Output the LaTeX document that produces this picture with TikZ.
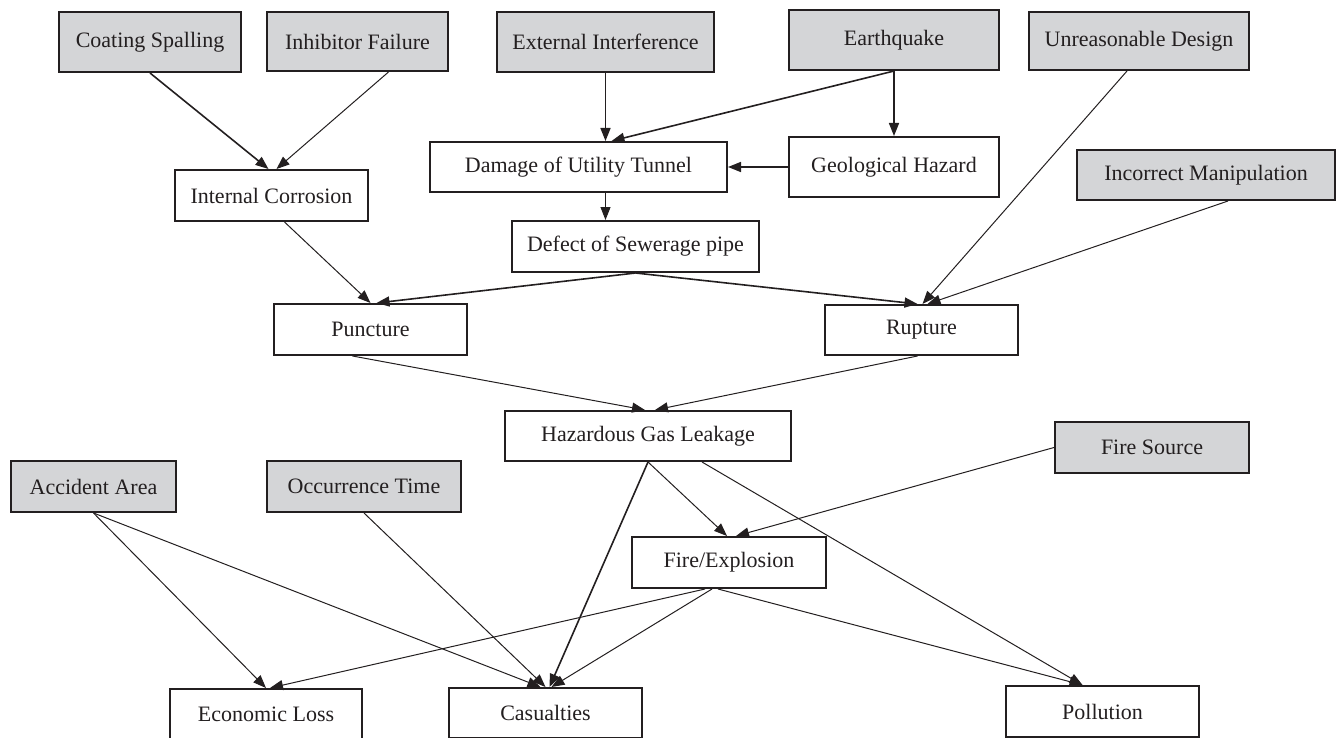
\documentclass[tikz,border=0pt]{standalone}
\usepackage{fontspec}
\setmainfont{Liberation Serif}
\usepackage{xcolor}
\usetikzlibrary{arrows.meta, calc, positioning}
\definecolor{causegray}{RGB}{212,213,215}
\definecolor{inkgray}{RGB}{35,31,32}

\begin{document}
\begin{tikzpicture}[x=0.5pt, y=-0.5pt,
    box/.style={draw=inkgray, line width=1pt, fill=white, text=inkgray, inner sep=2pt,
        font=\fontsize{11}{13}\selectfont},
    cause/.style={box, fill=causegray},
    arr/.style={draw=inkgray, line width=0.5pt, -{Triangle[length=6.5pt,width=5pt]}},
    arrb/.style={arr, line width=0.8pt}]
\useasboundingbox (0,0) rectangle (1338,738);

% root causes
\node[cause, minimum width=91pt, minimum height=30pt] (coat) at (150,42) {Coating Spalling};
\node[cause, minimum width=90.5pt, minimum height=29.5pt] (inh) at (357.5,41.5) {Inhibitor Failure};
\node[cause, minimum width=108.5pt, minimum height=30pt] (ext) at (605.5,42) {External Interference};
\node[cause, minimum width=105pt, minimum height=30pt] (quake) at (894,40) {Earthquake};
\node[cause, minimum width=110pt, minimum height=29pt] (unr) at (1139,41) {Unreasonable Design};
\node[cause, minimum width=129pt, minimum height=25pt] (inc) at (1206,175) {Incorrect Manipulation};
\node[cause, minimum width=97pt, minimum height=25.5pt] (fsrc) at (1152,447.5) {Fire Source};
\node[cause, minimum width=82.5pt, minimum height=25.5pt] (acc) at (93.5,486.5) {Accident Area};
\node[cause, minimum width=97pt, minimum height=25.5pt] (occ) at (364,486.5) {Occurrence Time};

% intermediate events
\node[box, minimum width=148.5pt, minimum height=25pt] (dam) at (578.5,167) {Damage of Utility Tunnel};
\node[box, minimum width=105pt, minimum height=30pt] (geo) at (894,167) {Geological Hazard};
\node[box, minimum width=96.5pt, minimum height=25.5pt] (ic) at (271.5,195.5) {Internal Corrosion};
\node[box, minimum width=123.5pt, minimum height=25.5pt] (def) at (635.5,246.5) {Defect of Sewerage pipe};
\node[box, minimum width=96.5pt, minimum height=25.5pt] (punc) at (370.5,329.5) {Puncture};
\node[box, minimum width=96.5pt, minimum height=25pt] (rup) at (921.5,330) {Rupture};
\node[box, minimum width=143pt, minimum height=25pt] (haz) at (648,436) {Hazardous Gas Leakage};
\node[box, minimum width=97pt, minimum height=25.5pt] (fire) at (729,562.5) {Fire/Explosion};

% consequences
\node[box, minimum width=96pt, minimum height=25pt] (eco) at (266,714) {Economic Loss};
\node[box, minimum width=96.5pt, minimum height=25pt] (cas) at (545.5,713) {Casualties};
\node[box, minimum width=96.5pt, minimum height=25.5pt] (poll) at (1102.5,711.5) {Pollution};

% links
\draw[arrb] (coat.south) -- ($(ic.north)+(-3,0)$);
\draw[arr] ($(inh.south)+(31,0)$) -- ($(ic.north)+(5,0)$);
\draw[arrb] (ext.south) -- (ext.south |- dam.north);
\draw[arrb] (quake.south) -- ($(dam.north)+(33,0)$);
\draw[arrb] (quake.south) -- (geo.north);
\draw[arrb] (geo.west) -- (dam.east);
\draw[arr] (ext.south |- dam.south) -- (ext.south |- def.north);
\draw[arrb] (def.south) -- ($(punc.north)+(6,0)$);
\draw[arrb] (def.south) -- ($(rup.north)+(-4,0)$);
\draw[arr] ($(ic.south)+(13,0)$) -- (punc.north);
\draw[arr] ($(unr.south)+(-12,0)$) -- ($(rup.north)+(1,0)$);
\draw[arr] ($(inc.south)+(22,0)$) -- ($(rup.north)+(6,0)$);
\draw[arr] ($(punc.south)+(-18,0)$) -- ($(haz.north)+(-3,0)$);
\draw[arr] ($(rup.south)+(-4,0)$) -- ($(haz.north)+(7,0)$);
\draw[arr] (haz.south) -- ($(fire.north)+(-2,0)$);
\draw[arr] (fsrc.west) -- ($(fire.north)+(7,0)$);
\draw[arrb] (haz.south) -- ($(cas.north)+(4,0)$);
\draw[arr] ($(haz.south)+(54,0)$) -- ($(poll.north)+(-20,0)$);
\draw[arr] (acc.south) -- (eco.north);
\draw[arr] (acc.south) -- ($(cas.north)+(-5,0)$);
\draw[arr] (occ.south) -- (cas.north);
\draw[arr] ($(fire.south)+(-24,0)$) -- ($(eco.north)+(4,0)$);
\draw[arr] ($(fire.south)+(-17,0)$) -- ($(cas.north)+(6,0)$);
\draw[arr] ($(fire.south)+(-11,0)$) -- ($(poll.north)+(-20,0)$);
\end{tikzpicture}
\end{document}
